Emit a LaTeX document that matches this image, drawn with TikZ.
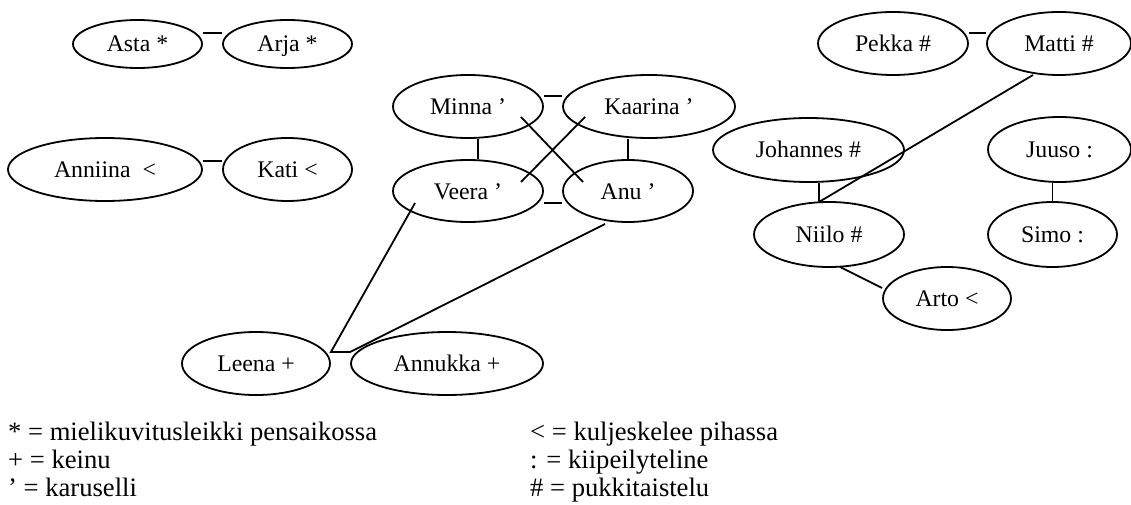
\documentclass[tikz,border=0pt]{standalone}
\usepackage{fontspec}
\setmainfont{Liberation Serif}
\usetikzlibrary{shapes.geometric,calc}

\begin{document}
\begin{tikzpicture}[x=1pt,y=-1pt,
  kid/.style={ellipse,draw,line width=1.8pt,inner sep=0pt,
    font=\fontsize{23.8}{28}\selectfont,text height=16pt,text depth=0pt},
  tie/.style={line width=1.8pt},
  legend/.style={anchor=base west,inner sep=0pt,font=\fontsize{26.6}{30}\selectfont}]
\useasboundingbox (0,0) rectangle (1131,505);

% children (centre, width, height)
\node[kid,minimum width=129pt,minimum height=48pt] (asta)    at (137.5,44)   {Asta *};
\node[kid,minimum width=129pt,minimum height=48pt] (arja)    at (287.5,44)   {Arja *};
\node[kid,minimum width=194pt,minimum height=63pt] (anniina) at (105,169.5)  {Anniina\ \ <};
\node[kid,minimum width=129pt,minimum height=63pt] (kati)    at (287.5,169.5){Kati <};

\node[kid,minimum width=150pt,minimum height=63pt] (minna)   at (468,106.5)  {Minna ’};
\node[kid,minimum width=172pt,minimum height=63pt] (kaarina) at (649,106.5)  {Kaarina ’};
\node[kid,minimum width=150pt,minimum height=62pt] (veera)   at (468,191)    {Veera ’};
\node[kid,minimum width=130pt,minimum height=62pt] (anu)     at (628,191)    {Anu ’};

\node[kid,minimum width=148pt,minimum height=63pt] (leena)   at (256,363.5)  {Leena +};
\node[kid,minimum width=192pt,minimum height=63pt] (annukka) at (447,363.5)  {Annukka +};

\node[kid,minimum width=150pt,minimum height=63pt] (pekka)   at (893,43.5)   {Pekka \#};
\node[kid,minimum width=144pt,minimum height=63pt] (matti)   at (1059,43.5)  {Matti \#};
\node[kid,minimum width=191pt,minimum height=64pt] (johannes) at (808.5,150) {Johannes \#};
\node[kid,minimum width=150pt,minimum height=65pt] (niilo)   at (829,234.5)  {Niilo \#};
\node[kid,minimum width=143pt,minimum height=65pt] (juuso)   at (1059.5,149.5){Juuso :};
\node[kid,minimum width=129pt,minimum height=65pt] (simo)    at (1052.5,234.5){Simo :};
\node[kid,minimum width=128pt,minimum height=63pt] (arto)    at (947,298.5)  {Arto <};

% pairs side by side
\draw[tie] ([yshift=11pt]asta.east) -- ([yshift=11pt]arja.west);
\draw[tie] ([yshift=8.5pt]anniina.east) -- ([yshift=8.5pt]kati.west);
\draw[tie] ([yshift=10.5pt]minna.east) -- ([yshift=10.5pt]kaarina.west);
\draw[tie] ([yshift=-12pt]veera.east) -- ([yshift=-12pt]anu.west);
\draw[tie] ([yshift=10.5pt]pekka.east) -- ([yshift=10.5pt]matti.west);

% vertical ties
\draw[tie] ($(veera.north)+(10,0)$) coordinate (mv) -- (mv |- minna.south);
\draw[tie] (anu.north) -- (anu.north |- kaarina.south);
\draw[tie] ($(niilo.north)+(-10,0)$) coordinate (jn) -- (jn |- johannes.south);
\draw[tie] (simo.north) -- (simo.north |- juuso.south);

% carousel crossings
\draw[tie] ($(minna.center)+(53,10.5)$) -- ($(anu.center)+(-45,-9)$);
\draw[tie] ($(kaarina.center)+(-64,10.5)$) -- ($(veera.center)+(53,-9)$);

% swing pair and their links
\draw[tie] ($(veera.center)+(-53,12)$) -- ([yshift=11.5pt]leena.east)
  -- ([yshift=11.5pt]annukka.west) -- ($(anu.center)+(-23,33)$);

% right group links
\draw[tie] ($(matti.center)+(-26,31.5)$) -- ($(niilo.center)+(-10,-32.5)$);
\draw[tie] ($(niilo.center)+(11,32.5)$) -- ([yshift=10.5pt]arto.west);

% key
\node[legend] (k1) at (8,440) {* = mielikuvitusleikki pensaikossa};
\node[legend] (k2) at (8,468) {+ = keinu};
\node[legend] (k3) at (8,496) {’ = karuselli};
\node[legend] (k4) at (530,440) {< = kuljeskelee pihassa};
\node[legend] (k5) at (530,468) {: = kiipeilyteline};
\node[legend] (k6) at (530,496) {\# = pukkitaistelu};
\end{tikzpicture}
\end{document}
